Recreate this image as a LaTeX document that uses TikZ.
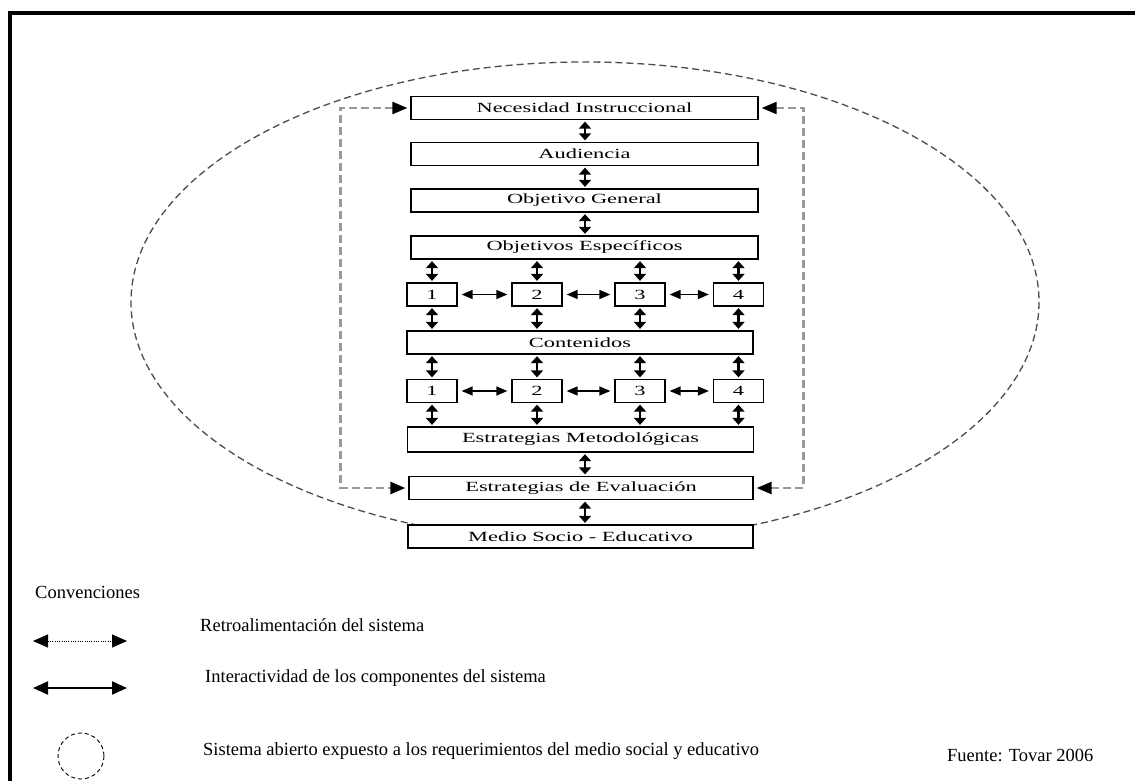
\documentclass[tikz,border=0pt]{standalone}
\usepackage{fontspec}
\usepackage{graphicx}
\setmainfont{Liberation Serif}
\usetikzlibrary{arrows.meta,calc}
% wide type used inside the boxes
\newcommand\boxtxt[1]{\scalebox{1.6}[1]{#1}}
\begin{document}
\begin{tikzpicture}[x=1pt,y=-1pt,
  box/.style={draw=black, line width=1.3pt, fill=white, inner sep=0pt,
    minimum height=23pt, font=\fontsize{14}{16}\selectfont},
  wide/.style={box, minimum width=346pt},
  num/.style={box, minimum width=50pt},
  vdbl/.style={line width=2.8pt, shorten <=1.5pt, shorten >=1.5pt,
    {Triangle[length=7pt,width=12pt]}-{Triangle[length=7pt,width=12pt]}},
  hdbl/.style={line width=1.4pt, shorten <=4pt, shorten >=4pt,
    {Triangle[length=11pt,width=9pt]}-{Triangle[length=11pt,width=9pt]}},
  fb/.style={draw=black!40, line width=2.4pt, dash pattern=on 8pt off 4pt,
    shorten <=3pt, shorten >=3pt,
    {Triangle[length=15pt,width=12pt,color=black]}-{Triangle[length=15pt,width=12pt,color=black]}},
  legtxt/.style={anchor=west, inner sep=0pt, font=\fontsize{18.5}{20}\selectfont},
]
\useasboundingbox (0,0) rectangle (1135,781);
\clip (0,0) rectangle (1135,781);

% outer frame
\draw[line width=4pt] (10,1000) -- (10,13) -- (1300,13);

% open system boundary
\draw[black!70, line width=1.3pt, dash pattern=on 7pt off 4pt]
  (585,302) ellipse [x radius=454, y radius=240];

% main chain
\node[wide, minimum width=347pt] (nec) at (584.5,108) {\boxtxt{Necesidad Instruccional}};
\node[wide, minimum width=347pt] (aud) at (584.5,154) {\boxtxt{Audiencia}};
\node[wide, minimum width=347pt] (gen) at (584.5,200.5) {\boxtxt{Objetivo General}};
\node[wide, minimum width=347pt] (esp) at (584.5,247.5) {\boxtxt{Objetivos Específicos}};

\node[num] (o1) at (432,294.5) {\boxtxt{1}};
\node[num] (o2) at (537,294.5) {\boxtxt{2}};
\node[num] (o3) at (640,294.5) {\boxtxt{3}};
\node[num] (o4) at (738.5,294.5) {\boxtxt{4}};

\node[wide] (cont) at (580,342.5) {\boxtxt{Contenidos}};

\node[num] (c1) at (432,391) {\boxtxt{1}};
\node[num] (c2) at (537,391) {\boxtxt{2}};
\node[num] (c3) at (640,391) {\boxtxt{3}};
\node[num] (c4) at (738.5,391) {\boxtxt{4}};

\node[wide, minimum height=25pt] (met) at (580.5,439.5) {\boxtxt{Estrategias Metodológicas}};
\node[wide, minimum width=344pt] (eval) at (581,488) {\boxtxt{Estrategias de Evaluación}};
\node[wide, minimum width=345pt] (med) at (580.5,536.5) {\boxtxt{Medio Socio - Educativo}};

\coordinate (axis) at (585,0);

% interaction arrows along the chain
\draw[vdbl] (nec.south -| axis) -- (aud.north -| axis);
\draw[vdbl] (aud.south -| axis) -- (gen.north -| axis);
\draw[vdbl] (gen.south -| axis) -- (esp.north -| axis);
\foreach \k in {1,2,3,4}{
  \draw[vdbl] (esp.south -| o\k) -- (o\k.north);
  \draw[vdbl] (o\k.south) -- (cont.north -| o\k);
  \draw[vdbl] (cont.south -| c\k) -- (c\k.north);
  \draw[vdbl] (c\k.south) -- (met.north -| c\k);
}
\draw[vdbl] (met.south -| axis) -- (eval.north -| axis);
\draw[vdbl] (eval.south -| axis) -- (med.north -| axis);

\draw[hdbl] (o1) -- (o2);
\draw[hdbl] (o2) -- (o3);
\draw[hdbl] (o3) -- (o4);
\draw[hdbl] (c1) -- (c2);
\draw[hdbl] (c2) -- (c3);
\draw[hdbl] (c3) -- (c4);

% feedback loops
\draw[fb] (nec.west) -- ++(-70,0) |- (eval.west);
\draw[fb] (nec.east) -- ++(45,0) |- (eval.east);

% conventions
\node[legtxt] (conv) at (35,592) {Convenciones};

\coordinate (r1) at (33,641);
\coordinate (r2) at (127,641);
\draw[line width=0.9pt, dash pattern=on 0.9pt off 1.4pt,
  {Triangle[length=15pt,width=13pt]}-{Triangle[length=15pt,width=13pt]}] (r1) -- (r2);
\node[legtxt] (retro) at (200,625) {Retroalimentación del sistema};

\coordinate (i1) at (33,688);
\coordinate (i2) at (127,688);
\draw[line width=2pt,
  {Triangle[length=15pt,width=13pt]}-{Triangle[length=15pt,width=13pt]}] (i1) -- (i2);
\node[legtxt] (inter) at (205,678) {Interactividad de los componentes del sistema};

\draw[line width=0.9pt, dash pattern=on 4pt off 3pt] (81,756) circle [radius=23];
\node[legtxt] (abierto) at (203,751) {Sistema abierto expuesto a los requerimientos del medio social y educativo};
\node[legtxt] (fuente) at (947,755) {Fuente: Tovar 2006};
\end{tikzpicture}
\end{document}
